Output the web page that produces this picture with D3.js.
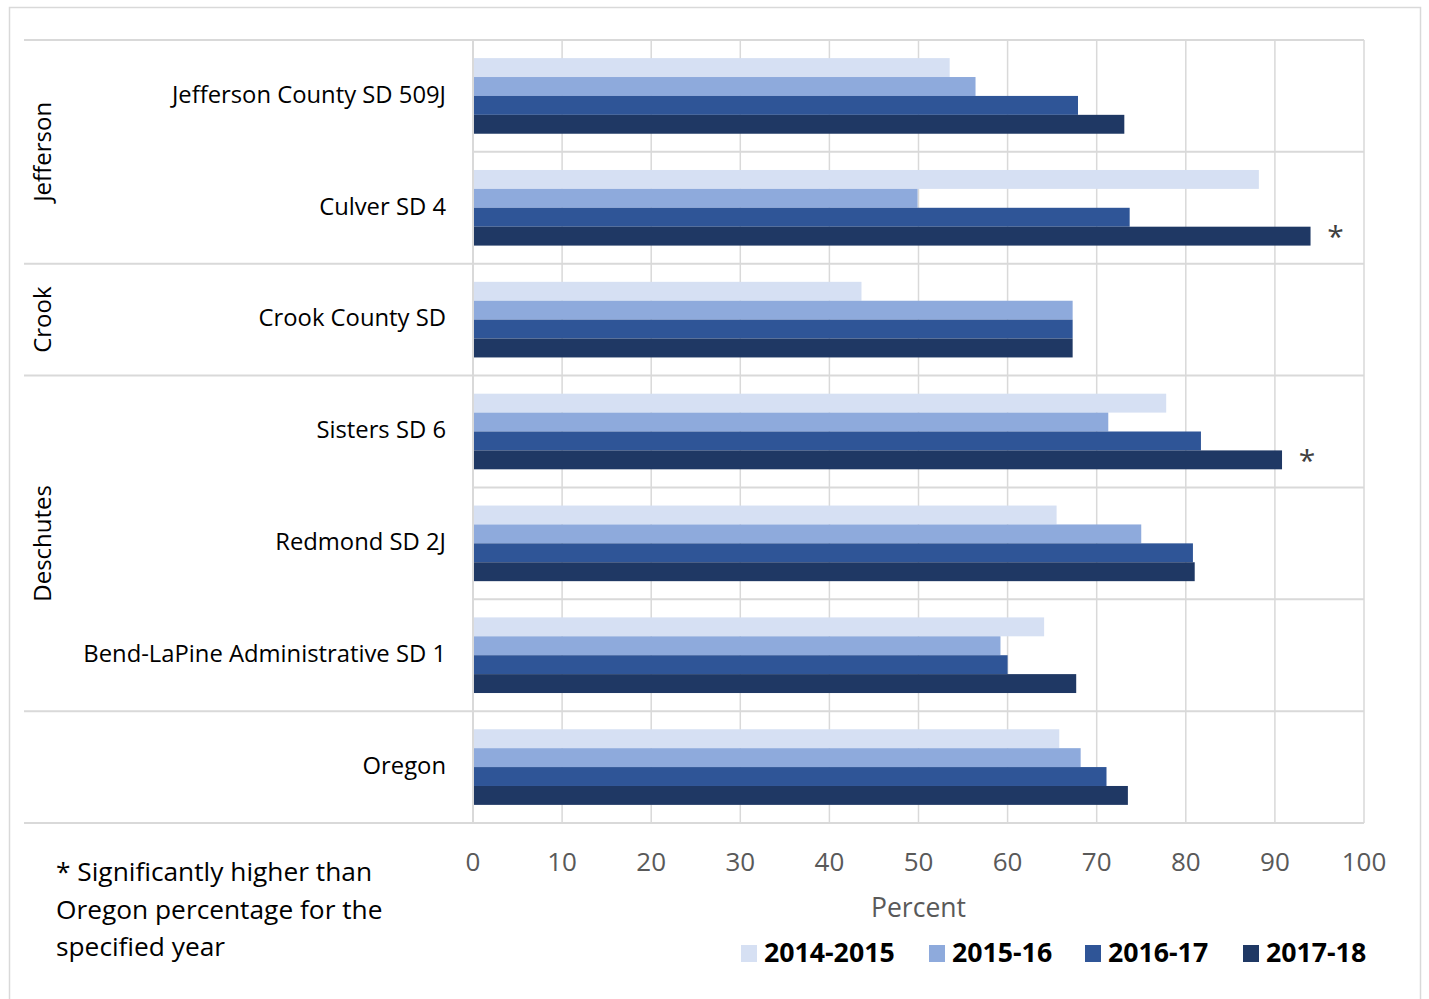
<!DOCTYPE html>
<html><head><meta charset="utf-8">
<script src="https://cdn.jsdelivr.net/npm/d3@7"></script>
<style>
body{margin:0;background:#fff;}
svg text{font-family:"Open Sans",Lato,sans-serif;}
</style></head>
<body><svg id="c" width="1429" height="999"></svg>
<script>
const categories = ["Jefferson County SD 509J","Culver SD 4","Crook County SD","Sisters SD 6","Redmond SD 2J","Bend-LaPine Administrative SD 1","Oregon"];
const groups = [{name:"Jefferson",size:2},{name:"Crook",size:1},{name:"Deschutes",size:3},{name:"",size:1}];
const seriesNames = ["2014-2015","2015-16","2016-17","2017-18"];
const s2014 = [53.5,88.2,43.6,77.8,65.5,64.1,65.8];
const s2015 = [56.4,49.9,67.3,71.3,75.0,59.2,68.2];
const s2016 = [67.9,73.7,67.3,81.7,80.8,60.0,71.1];
const s2017 = [73.1,94.0,67.3,90.8,81.0,67.7,73.5];
const significant = [{cat:"Culver SD 4",series:3},{cat:"Sisters SD 6",series:3}];
const xTicks = [0,10,20,30,40,50,60,70,80,90,100];
const colors = ["#D6E0F3","#8EAADC","#2F5597","#1F3864"];
const footnote = ["* Significantly higher than","Oregon percentage for the","specified year"];

(function(){
const values = [s2014,s2015,s2016,s2017];
const svg = d3.select("#c");
svg.append("rect").attr("x",9.5).attr("y",7.5).attr("width",1411).attr("height",1000)
  .attr("fill","none").attr("stroke","#d9d9d9").attr("stroke-width",1.5);

const pL=473,pR=1364,pT=40,pB=823,outerLeft=24;
const x = d3.scaleLinear().domain([0,100]).range([pL,pR]);
const y = d3.scaleBand().domain(categories).range([pT,pB]).padding(0);
const bw = y.bandwidth();
const inner = d3.scaleBand().domain(d3.range(4)).range([bw*0.162,bw*(1-0.162)]).padding(0);

const grid="#d9d9d9";
svg.append("g").selectAll("line").data(xTicks).join("line")
  .attr("x1",d=>x(d)).attr("x2",d=>x(d)).attr("y1",pT).attr("y2",pB)
  .attr("stroke",grid).attr("stroke-width",1.5);

let idx=0; const groupBounds=[];
groups.forEach(g=>{groupBounds.push({g,start:idx,end:idx+g.size}); idx+=g.size;});
const fullLines=new Set([0]);
groupBounds.forEach(b=>fullLines.add(b.end));
for(let i=0;i<=categories.length;i++){
  const yy = i<categories.length? y(categories[i]) : pB;
  svg.append("line").attr("x1",fullLines.has(i)?outerLeft:pL).attr("x2",pR)
    .attr("y1",yy).attr("y2",yy).attr("stroke",grid).attr("stroke-width",2);
}

const data=[];
categories.forEach((c,i)=>values.forEach((s,j)=>data.push({c,j,v:s[i]})));
svg.append("g").selectAll("rect").data(data).join("rect")
  .attr("x",x(0)).attr("y",d=>y(d.c)+inner(d.j)).attr("width",d=>x(d.v)-x(0))
  .attr("height",inner.bandwidth()).attr("fill",d=>colors[d.j]);

svg.append("line").attr("x1",pL).attr("x2",pL).attr("y1",pT).attr("y2",pB)
  .attr("stroke",grid).attr("stroke-width",2);

svg.append("g").selectAll("text").data(significant).join("text")
  .attr("x",d=>x(values[d.series][categories.indexOf(d.cat)])+25)
  .attr("y",d=>y(d.cat)+inner(d.series)+inner.bandwidth()/2+11)
  .attr("text-anchor","middle").attr("font-size",30).attr("fill","#404040").text("*");

svg.append("g").selectAll("text").data(categories).join("text")
  .attr("x",446).attr("y",d=>y(d)+bw/2-1.5).attr("dy","0.35em").attr("text-anchor","end")
  .attr("font-size",23.8).attr("fill","#000").text(d=>d);

groupBounds.filter(b=>b.g.name).forEach(b=>{
  const y0=y(categories[b.start]), y1=b.end<categories.length?y(categories[b.end]):pB;
  svg.append("text").attr("transform",`translate(43,${(y0+y1)/2}) rotate(-90)`)
    .attr("dy","0.35em").attr("text-anchor","middle").attr("font-size",24).attr("fill","#000").text(b.g.name);
});

svg.append("g").selectAll("text").data(xTicks).join("text")
  .attr("x",d=>x(d)).attr("y",862).attr("dy","0.35em").attr("text-anchor","middle")
  .attr("font-size",26).attr("fill","#595959").text(d=>d);
svg.append("text").attr("x",(pL+pR)/2).attr("y",908).attr("dy","0.35em").attr("text-anchor","middle")
  .attr("font-size",26.5).attr("fill","#595959").text("Percent");

const legX=[741,929,1085,1243];
const lg=svg.append("g").selectAll("g").data(seriesNames).join("g")
  .attr("transform",(d,i)=>`translate(${legX[i]},953)`);
lg.append("rect").attr("x",0).attr("y",-8).attr("width",16).attr("height",17).attr("fill",(d,i)=>colors[i]);
lg.append("text").attr("x",23).attr("dy","0.35em").attr("font-size",26.7).attr("font-weight","bold").attr("fill","#000").text(d=>d);

svg.append("g").selectAll("text").data(footnote).join("text")
  .attr("x",56).attr("y",(d,i)=>872+i*37.5).attr("dy","0.35em")
  .attr("font-size",26.3).attr("fill","#000").text(d=>d);
})();
</script></body></html>
